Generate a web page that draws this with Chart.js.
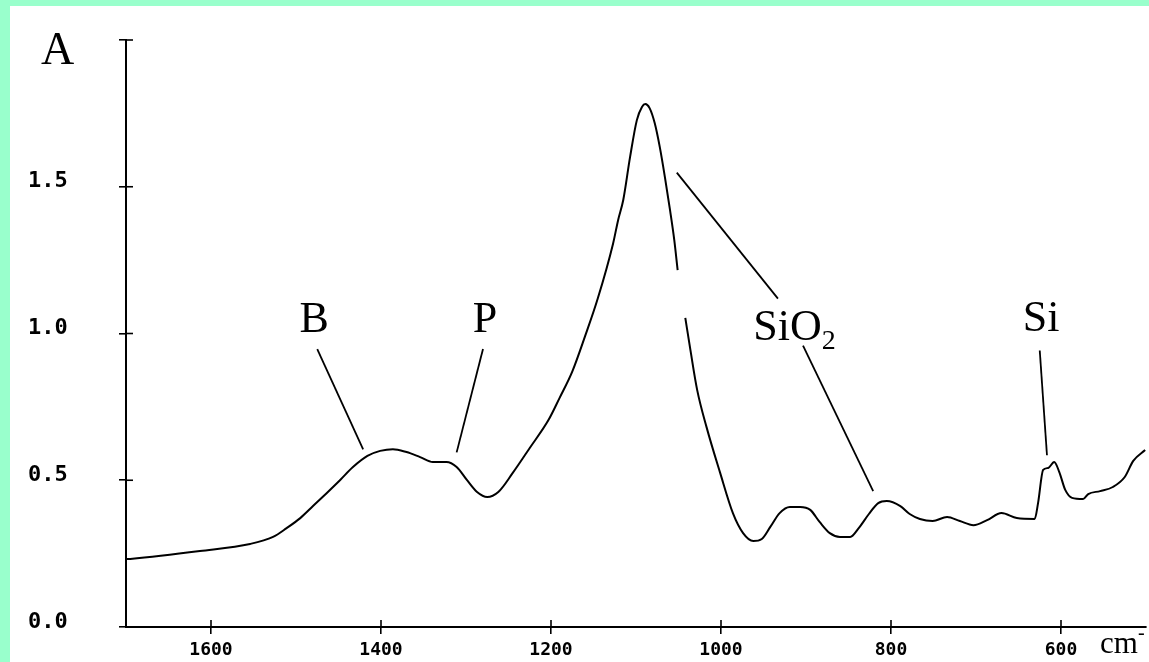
<!DOCTYPE html>
<html><head><meta charset="utf-8">
<script src="https://cdn.jsdelivr.net/npm/chart.js@4"></script>
<style>
html,body{margin:0;padding:0;background:#99FFCC;width:1149px;height:662px;overflow:hidden}
#wrap{position:absolute;left:10px;top:6px;width:1139px;height:656px;background:#fff}
canvas{display:block}
</style></head><body><div id="wrap"><canvas id="c" width="1139" height="656"></canvas></div>
<script>
// Spectrum: wavenumber (cm-1) and absorbance
const wavenumbers = [1700,1695,1613,1554,1527,1511,1495,1480,1464,1448,1433,1416,1401,1386,1370,1354,1339,1323,1311,1299,1287,1275,1262,1245,1225,1203,1190,1175,1160,1145,1127,1121,1115,1107,1099,1093,1089,1084,1078,1072,1066,1060,1055,1051,1047,1042,1036,1028,1017,1001,986,974,962,952,942,931,919,907,895,884,872,860,848,838,826,815,805,789,778,766,751,734,719,703,687,670,652,631,627,621,615,608,602,595,587,574,568,554,539,525,515,501];
const absorbance  = [0.231,0.232,0.259,0.283,0.307,0.337,0.371,0.412,0.456,0.501,0.545,0.583,0.600,0.606,0.596,0.579,0.562,0.562,0.545,0.501,0.460,0.443,0.460,0.525,0.610,0.705,0.780,0.870,0.990,1.119,1.306,1.387,1.455,1.601,1.727,1.772,1.782,1.768,1.717,1.635,1.533,1.421,1.319,1.216,null,1.053,0.944,0.807,0.681,0.525,0.388,0.320,0.293,0.300,0.341,0.388,0.409,0.409,0.399,0.358,0.320,0.307,0.307,0.337,0.385,0.422,0.429,0.412,0.385,0.368,0.361,0.375,0.361,0.347,0.364,0.388,0.371,0.368,0.422,0.535,0.542,0.562,0.528,0.467,0.440,0.436,0.453,0.463,0.477,0.511,0.566,0.603];
const xTickValues = [1600,1400,1200,1000,800,600];
const yTickValues = [0,0.5,1.0,1.5,2.0];
const bandNames = ['B','P','SiO2','Si'];

// annotation placement (data coordinates)
const labelSpots = {B:[1496,1.005], P:[1292,1.005], SiO2:[962,0.978], Si:[645,1.008]};
const leaders = [
  [1475,0.947,1421,0.605],
  [1280,0.947,1311,0.595],
  [1052,1.548,933,1.119],
  [903.5,0.959,821,0.463],
  [625,0.942,616.5,0.585]
];

const points = wavenumbers.map((v,i)=>({x:v,y:absorbance[i]}));

const overlay = {
  id:'overlay',
  afterDraw(chart){
    const ctx=chart.ctx, xs=chart.scales.x, ys=chart.scales.y, ca=chart.chartArea;
    ctx.save();
    ctx.strokeStyle='#000'; ctx.lineWidth=1.6;
    xTickValues.forEach(v=>{const px=xs.getPixelForValue(v);ctx.beginPath();ctx.moveTo(px,ca.bottom);ctx.lineTo(px,ca.bottom-7);ctx.stroke();});
    yTickValues.forEach(v=>{const py=ys.getPixelForValue(v);ctx.beginPath();ctx.moveTo(ca.left,py);ctx.lineTo(ca.left+7,py);ctx.stroke();});
    ctx.lineWidth=1.8;
    leaders.forEach(([v1,a1,v2,a2])=>{
      ctx.beginPath();
      ctx.moveTo(xs.getPixelForValue(v1),ys.getPixelForValue(a1));
      ctx.lineTo(xs.getPixelForValue(v2),ys.getPixelForValue(a2));
      ctx.stroke();
    });
    ctx.fillStyle='#000';ctx.textAlign='left';ctx.textBaseline='alphabetic';
    const big='44px "Liberation Serif", "Times New Roman", serif';
    bandNames.forEach(n=>{
      const [v,a]=labelSpots[n];
      const px=xs.getPixelForValue(v), py=ys.getPixelForValue(a);
      if(n==='SiO2'){
        ctx.font=big; ctx.fillText('SiO',px,py);
        const w=ctx.measureText('SiO').width;
        ctx.font='28px "Liberation Serif", serif'; ctx.fillText('2',px+w,py+9);
      } else { ctx.font=big; ctx.fillText(n,px,py); }
    });
    ctx.font='46px "Liberation Serif", serif';
    ctx.fillText('A',ca.left-85,ca.top+24);
    ctx.font='31px "Liberation Serif", serif';
    ctx.fillText('cm',ca.right-46,ca.bottom+26);
    ctx.font='20px "Liberation Serif", serif';
    ctx.fillText('-',ca.right-8,ca.bottom+12);
    ctx.restore();
  }
};

new Chart(document.getElementById('c'),{
  type:'line',
  data:{datasets:[{data:points,borderColor:'#000',borderWidth:2,pointRadius:0,cubicInterpolationMode:'monotone',fill:false,spanGaps:false}]},
  options:{
    responsive:false,animation:false,devicePixelRatio:1,
    layout:{padding:{left:18,top:34,right:3,bottom:0}},
    plugins:{legend:{display:false},tooltip:{enabled:false}},
    scales:{
      x:{type:'linear',reverse:true,min:500,max:1700,
        afterBuildTicks:s=>{s.ticks=xTickValues.map(v=>({value:v}));},
        afterFit:s=>{s.height=35;},
        grid:{display:true,drawOnChartArea:false,drawTicks:true,tickLength:7,color:'#000',lineWidth:1.6},
        border:{display:true,color:'#000',width:2},
        ticks:{color:'#000',padding:6,maxRotation:0,autoSkip:false,font:{family:'"DejaVu Sans Mono", monospace',size:18,weight:'bold'},callback:v=>String(v)}
      },
      y:{type:'linear',min:0,max:2,
        afterBuildTicks:s=>{s.ticks=yTickValues.map(v=>({value:v}));},
        afterFit:s=>{s.width=98;},
        grid:{display:true,drawOnChartArea:false,drawTicks:true,tickLength:7,color:'#000',lineWidth:1.6},
        border:{display:true,color:'#000',width:2},
        ticks:{color:'#000',crossAlign:'far',labelOffset:-5,autoSkip:false,font:{family:'"DejaVu Sans Mono", monospace',size:22,weight:'bold'},callback:v=>v===2?'':v.toFixed(1)}
      }
    }
  },
  plugins:[overlay]
});
</script></body></html>
